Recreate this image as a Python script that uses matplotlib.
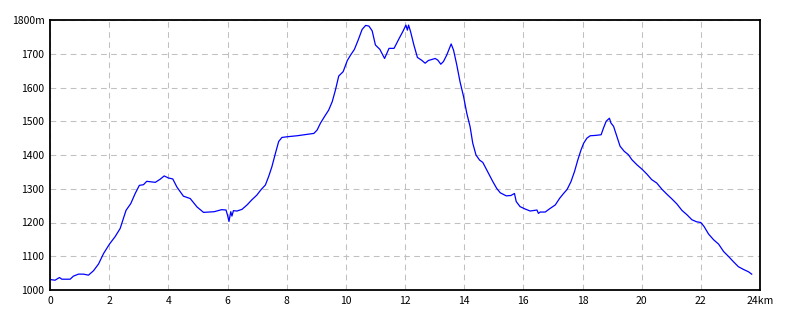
import matplotlib
matplotlib.use("Agg")
import matplotlib.pyplot as plt

dist_km = [0.0, 0.17, 0.32, 0.4, 0.68, 0.79, 0.96, 1.13, 1.3, 1.47, 1.64, 1.81, 2.01, 2.2, 2.37,
           2.57, 2.73, 2.88, 3.02, 3.16, 3.27, 3.56, 3.72, 3.86, 4.0, 4.15, 4.29, 4.51, 4.74,
           4.97, 5.19, 5.55, 5.8, 5.95, 6.0, 6.05, 6.11, 6.15, 6.2, 6.32, 6.49, 6.66, 6.82,
           6.99, 7.14, 7.28, 7.39, 7.5, 7.62, 7.73, 7.84, 8.01, 8.35, 8.69, 8.92, 9.03, 9.14,
           9.28, 9.42, 9.54, 9.65, 9.76, 9.91, 10.05, 10.16, 10.29, 10.41, 10.55, 10.67, 10.78,
           10.89, 11.0, 11.15, 11.31, 11.46, 11.63, 11.8, 11.94, 12.03, 12.08, 12.12, 12.19,
           12.3, 12.42, 12.56, 12.68, 12.79, 13.02, 13.11, 13.21, 13.3, 13.41, 13.56, 13.64,
           13.75, 13.86, 13.98, 14.09, 14.2, 14.29, 14.4, 14.52, 14.63, 14.79, 14.97, 15.1,
           15.22, 15.42, 15.58, 15.7, 15.76, 15.89, 16.06, 16.23, 16.46, 16.51, 16.57, 16.74,
           16.91, 17.08, 17.23, 17.36, 17.48, 17.61, 17.73, 17.84, 17.95, 18.04, 18.15, 18.26,
           18.43, 18.63, 18.71, 18.8, 18.91, 18.96, 19.05, 19.16, 19.27, 19.41, 19.55, 19.67,
           19.84, 20.01, 20.17, 20.34, 20.51, 20.68, 20.85, 21.02, 21.19, 21.36, 21.53, 21.7,
           21.86, 22.0, 22.11, 22.26, 22.43, 22.6, 22.77, 22.94, 23.1, 23.27, 23.44, 23.61, 23.72]
elev_m = [1031, 1029, 1037, 1032, 1032, 1041, 1047, 1047, 1044, 1057, 1077, 1108, 1136, 1158, 1182,
          1236, 1256, 1286, 1310, 1312, 1322, 1319, 1328, 1338, 1332, 1329, 1305, 1278, 1271,
          1246, 1230, 1232, 1238, 1237, 1222, 1203, 1232, 1219, 1235, 1234, 1239, 1252, 1267,
          1281, 1298, 1311, 1336, 1365, 1405, 1440, 1452, 1454, 1457, 1461, 1464, 1474, 1494,
          1514, 1533, 1558, 1593, 1634, 1647, 1680, 1696, 1713, 1739, 1772, 1784, 1782,
          1768, 1726, 1713, 1686, 1716, 1716, 1745, 1768, 1785, 1770, 1785, 1765,
          1726, 1689, 1681, 1672, 1680, 1686, 1681, 1669, 1677, 1696, 1729, 1711,
          1667, 1617, 1573, 1523, 1484, 1435, 1400, 1385, 1378, 1351, 1321, 1301,
          1288, 1279, 1280, 1286, 1262, 1247, 1240, 1234, 1237, 1227, 1231, 1231,
          1242, 1252, 1272, 1286, 1298, 1321, 1351, 1385, 1415, 1435, 1450, 1457,
          1458, 1460, 1480, 1500, 1509, 1495, 1485, 1455, 1426, 1411, 1401, 1386,
          1371, 1358, 1344, 1327, 1317, 1299, 1284, 1270, 1255, 1236, 1223, 1208,
          1202, 1200, 1188, 1166, 1149, 1136, 1114, 1099, 1084, 1069, 1061, 1054, 1047]

x_ticks = [0, 2, 4, 6, 8, 10, 12, 14, 16, 18, 20, 22, 24]
x_labels = ["0", "2", "4", "6", "8", "10", "12", "14", "16", "18", "20", "22", "24km"]
y_ticks = [1000, 1100, 1200, 1300, 1400, 1500, 1600, 1700, 1800]
y_labels = ["1000", "1100", "1200", "1300", "1400", "1500", "1600", "1700", "1800m"]

plt.rcParams['font.family'] = ['Noto Sans CJK JP', 'DejaVu Sans']

fig = plt.figure(figsize=(8, 3.2), dpi=100)
ax = fig.add_axes([50/800, 30/320, 710/800, 270/320])
ax.plot(dist_km, elev_m, color='#0000ff', linewidth=0.9)
ax.set_xlim(0, 24)
ax.set_ylim(1000, 1800)
ax.set_xticks(x_ticks)
ax.set_xticklabels(x_labels)
ax.set_yticks(y_ticks)
ax.set_yticklabels(y_labels)
ax.tick_params(length=0, labelsize=7.5, pad=4, colors='black')
ax.grid(True, color='#c0c0c0', linestyle=(0, (5.5, 4.2)), linewidth=0.75)
for s in ax.spines.values():
    s.set_color('black')
    s.set_linewidth(1.3)
ax.set_axisbelow(True)
fig.savefig('out.png', dpi=100)
